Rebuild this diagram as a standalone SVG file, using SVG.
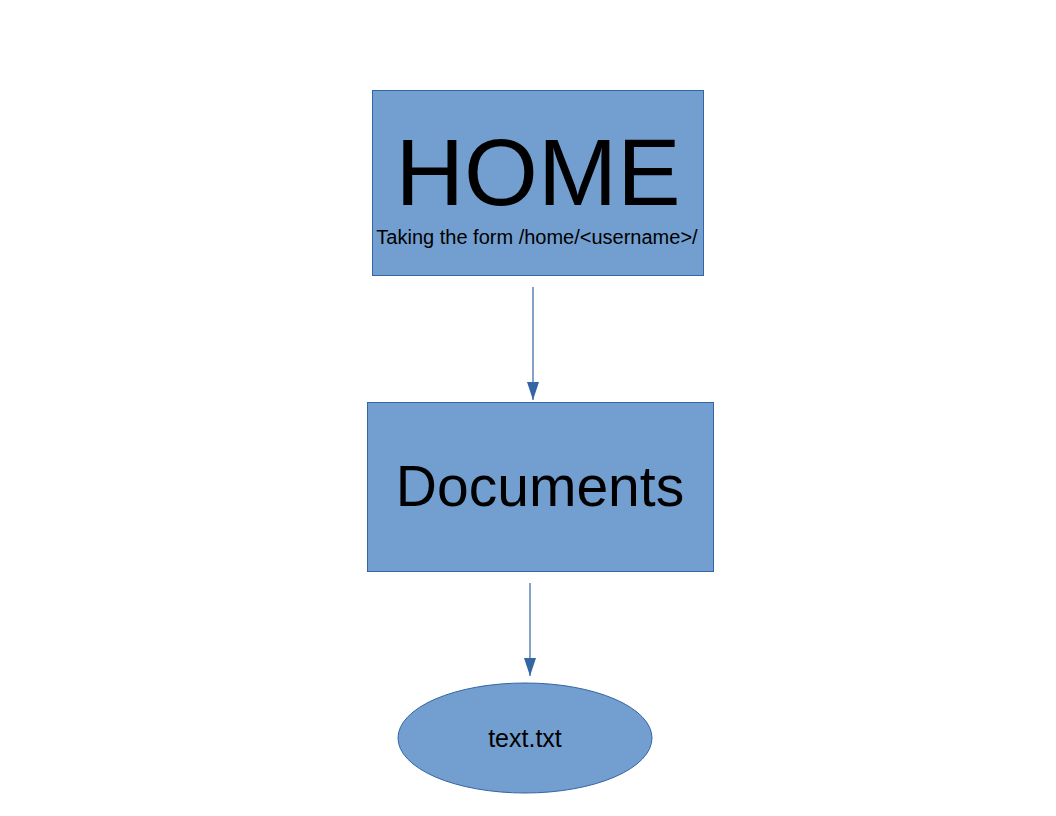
<svg xmlns="http://www.w3.org/2000/svg" width="1056" height="816" viewBox="0 0 1056 816">
  <style>
    .box { fill: #729fcf; stroke: #3465a4; stroke-width: 1; }
    .lbl { font-family: "Liberation Sans", Arial, sans-serif; fill: #000; text-anchor: middle; }
    .conn { stroke: #3465a4; stroke-width: 1.2; fill: none; }
  </style>
  <defs>
    <marker id="arrow" viewBox="0 0 18 12" refX="18" refY="6" markerWidth="18" markerHeight="12" markerUnits="userSpaceOnUse" orient="auto">
      <path d="M0,0 L18,6 L0,12 Z" fill="#3465a4"/>
    </marker>
  </defs>
  <rect width="1056" height="816" fill="#ffffff"/>
  <g id="connectors">
    <line class="conn" x1="533" y1="287" x2="533" y2="400" marker-end="url(#arrow)"/>
    <line class="conn" x1="530" y1="583" x2="530" y2="676" marker-end="url(#arrow)"/>
  </g>
  <g id="home">
    <rect class="box" x="372.5" y="90.5" width="331" height="185"/>
    <text class="lbl" x="538" y="205" font-size="95">HOME</text>
    <text class="lbl" x="537" y="244" font-size="20">Taking the form /home/&lt;username&gt;/</text>
  </g>
  <g id="documents">
    <rect class="box" x="367.5" y="402.5" width="346" height="169"/>
    <text class="lbl" x="540" y="506" font-size="57">Documents</text>
  </g>
  <g id="textfile">
    <ellipse class="box" cx="525" cy="738" rx="127" ry="55"/>
    <text class="lbl" x="525" y="747" font-size="25">text.txt</text>
  </g>
</svg>
